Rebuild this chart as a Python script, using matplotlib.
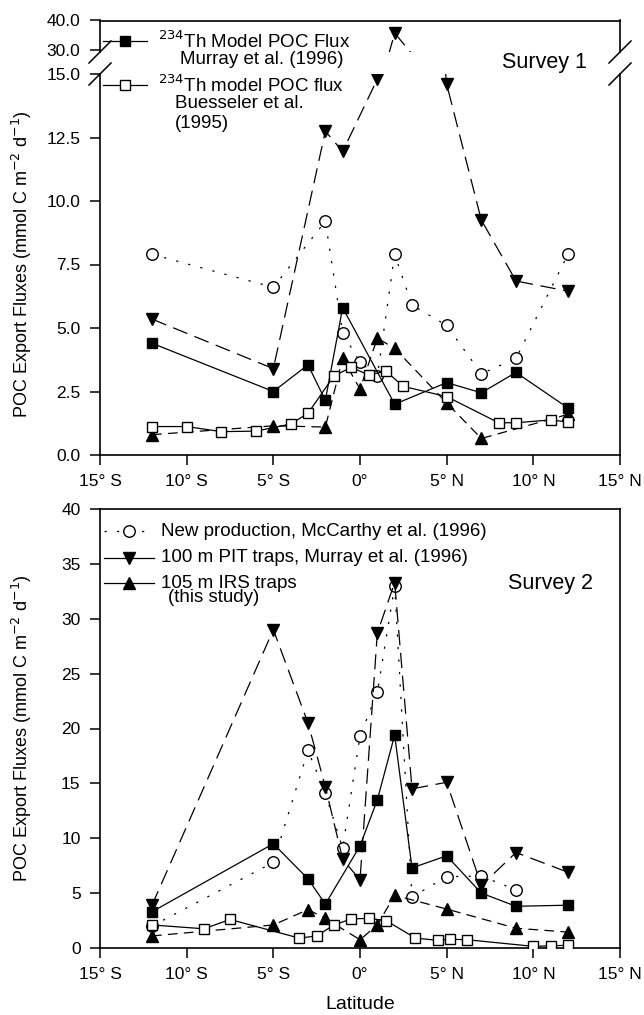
import matplotlib
matplotlib.use("Agg")
import matplotlib.pyplot as plt
from matplotlib.lines import Line2D
from matplotlib.transforms import Affine2D

plt.rcParams['font.family'] = ['Liberation Sans', 'DejaVu Sans']
plt.rcParams['lines.scale_dashes'] = False

# ---------------- data ----------------
lat_ticks = [-15, -10, -5, 0, 5, 10, 15]
lat_labels = ["15° S", "10° S", "5° S", "0°", "5° N", "10° N", "15° N"]

# Survey 1
s1_np_lat = [-12, -5, -2, -1, 0, 1, 2, 3, 5, 7, 9, 12]
s1_np = [7.9, 6.6, 9.2, 4.8, 3.65, 3.1, 7.9, 5.9, 5.1, 3.2, 3.8, 7.9]
s1_th_lat = [-12, -5, -3, -2, -1, 2, 5, 7, 9, 12]
s1_th = [4.4, 2.5, 3.55, 2.15, 5.8, 2.0, 2.85, 2.45, 3.25, 1.85]
s1_bu_lat = [-12, -10, -8, -6, -4, -3, -1.5, -0.5, 0.5, 1.5, 2.5, 5, 8, 9, 11, 12]
s1_bu = [1.12, 1.12, 0.92, 0.94, 1.22, 1.64, 3.12, 3.45, 3.15, 3.3, 2.7, 2.3, 1.27, 1.27, 1.38, 1.3]
s1_irs_lat = [-12, -5, -2, -1, 0, 1, 2, 5, 7, 12]
s1_irs = [0.8, 1.15, 1.1, 3.8, 2.6, 4.6, 4.2, 2.05, 0.65, 1.6]
s1_pit_lat = [-12, -5, -2, -1, 1, 2, 5, 7, 9, 12]
s1_pit = [5.35, 3.4, 12.75, 11.95, 14.8, 35.7, 14.6, 9.25, 6.85, 6.45]

# Survey 2
s2_np_lat = [-12, -5, -3, -2, -1, 0, 1, 2, 3, 5, 7, 9]
s2_np = [2.0, 7.8, 18.0, 14.1, 9.1, 19.3, 23.3, 33.0, 4.65, 6.5, 6.55, 5.3]
s2_th_lat = [-12, -5, -3, -2, 0, 1, 2, 3, 5, 7, 9, 12]
s2_th = [3.3, 9.5, 6.3, 4.0, 9.3, 13.5, 19.4, 7.3, 8.4, 5.0, 3.8, 3.9]
s2_bu_lat = [-12, -9, -7.5, -3.5, -2.5, -1.5, -0.5, 0.5, 1.5, 3.2, 4.5, 5.2, 6.2, 10, 11, 12]
s2_bu = [2.1, 1.75, 2.6, 0.9, 1.1, 2.1, 2.65, 2.7, 2.5, 0.9, 0.7, 0.8, 0.75, 0.15, 0.2, 0.25]
s2_pit_lat = [-12, -5, -3, -2, -1, 0, 1, 2, 3, 5, 7, 9, 12]
s2_pit = [3.9, 29.0, 20.5, 14.7, 8.1, 6.2, 28.7, 33.3, 14.5, 15.1, 5.7, 8.7, 6.9]
s2_irs_lat = [-12, -5, -3, -2, 0, 1, 2, 5, 9, 12]
s2_irs = [1.1, 2.1, 3.5, 2.7, 0.75, 2.1, 4.8, 3.55, 1.8, 1.45]

leg1_labels = [["$^{234}$Th Model POC Flux", "Murray et al. (1996)"],
               ["$^{234}$Th model POC flux", "Buesseler et al.", "(1995)"]]
leg2_labels = [["New production, McCarthy et al. (1996)"],
               ["100 m PIT traps, Murray et al. (1996)"],
               ["105 m IRS traps", "(this study)"]]
ylabel = "POC Export Fluxes (mmol C m$^{-2}$ d$^{-1}$)"

# ---------------- styles ----------------
W, H = 644, 1015
LW = 0.9
STY = {
    'np':  dict(color='black', lw=LW, dashes=(1.6, 7.4), marker='o', ms=8.3, mfc='white', mec='black', mew=1.0),
    'pit': dict(color='black', lw=LW, dashes=(11, 5.5), marker='v', ms=8.5, mfc='black', mec='black', mew=1.0),
    'irs': dict(color='black', lw=LW, dashes=(7, 4.5), marker='^', ms=8.5, mfc='black', mec='black', mew=1.0),
    'th':  dict(color='black', lw=LW, ls='-', marker='s', ms=7.5, mfc='black', mec='black', mew=1.0),
    'bu':  dict(color='black', lw=LW, ls='-', marker='s', ms=7.5, mfc='white', mec='black', mew=1.0),
}
TICK_FS = 12.5

fig = plt.figure(figsize=(W / 100, H / 100), dpi=100)
pxT = Affine2D().scale(1 / W, -1 / H).translate(0, 1) + fig.transFigure


def add_ax(l, t, r, b):
    return fig.add_axes([l / W, 1 - b / H, (r - l) / W, (b - t) / H])


def style_ax(ax):
    for s in ax.spines.values():
        s.set_linewidth(1.2)
    ax.tick_params(direction='out', length=7, width=1.1, labelsize=TICK_FS, pad=7,
                   top=False, right=False)
    ax.set_xlim(-15, 15)


def draw_series(ax, clip=True):
    pass


# ---------- Top panel (broken axis) ----------
ax_up = add_ax(100, 20.5, 620, 52)
ax_lo = add_ax(100, 74, 620, 455)
for ax in (ax_up, ax_lo):
    style_ax(ax)
    ax.plot(s1_np_lat, s1_np, **STY['np'], zorder=3)
    ax.plot(s1_pit_lat, s1_pit, **STY['pit'], zorder=4)
    ax.plot(s1_irs_lat, s1_irs, **STY['irs'], zorder=5)
    ax.plot(s1_th_lat, s1_th, **STY['th'], zorder=6)
    ax.plot(s1_bu_lat, s1_bu, **STY['bu'], zorder=7)

ax_up.set_ylim(29.3, 40)
ax_up.set_yticks([30, 40])
ax_up.set_yticklabels(["30.0", "40.0"])
ax_up.spines['bottom'].set_visible(False)
ax_up.tick_params(axis='x', bottom=False, labelbottom=False)

ax_lo.set_ylim(0, 15)
ax_lo.set_yticks([0, 2.5, 5, 7.5, 10, 12.5, 15])
ax_lo.set_yticklabels(["0.0", "2.5", "5.0", "7.5", "10.0", "12.5", "15.0"])
ax_lo.spines['top'].set_visible(False)
ax_lo.set_xticks(lat_ticks)
ax_lo.set_xticklabels(lat_labels)

# break marks
for xc in (100, 620):
    for yc in (52, 74):
        fig.add_artist(Line2D([xc - 11, xc + 11], [yc + 11, yc - 11], transform=pxT,
                              color='black', lw=1.1))

fig.text(22 / W, 1 - 264 / H, ylabel, rotation=90, ha='center', va='center', fontsize=13)
fig.text(544 / W, 1 - 62 / H, "Survey 1", ha='center', va='center', fontsize=15.5)

# top legend
def leg_handle(y, key, x0=103, x1=147, xm=125):
    st = dict(STY[key])
    ms = dict(marker=st.pop('marker'), ms=st.pop('ms'), mfc=st.pop('mfc'),
              mec=st.pop('mec'), mew=st.pop('mew'))
    if key in ('np',):
        fig.add_artist(Line2D([x0, x1], [y, y], transform=pxT, **st))
    else:
        fig.add_artist(Line2D([x0, x1], [y, y], transform=pxT, color='black', lw=LW))
    fig.add_artist(Line2D([xm], [y], transform=pxT, ls='none', **ms))

LEG_FS = 13.5
leg_handle(41, 'th')
fig.text(158 / W, 1 - 41 / H, leg1_labels[0][0], ha='left', va='center', fontsize=LEG_FS)
fig.text(180 / W, 1 - 59.5 / H, leg1_labels[0][1], ha='left', va='center', fontsize=LEG_FS)
leg_handle(85, 'bu')
fig.text(158 / W, 1 - 85 / H, leg1_labels[1][0], ha='left', va='center', fontsize=LEG_FS)
fig.text(175 / W, 1 - 104 / H, leg1_labels[1][1], ha='left', va='center', fontsize=LEG_FS)
fig.text(175 / W, 1 - 123 / H, leg1_labels[1][2], ha='left', va='center', fontsize=LEG_FS)

# ---------- Bottom panel ----------
ax2 = add_ax(100, 509, 620, 948)
style_ax(ax2)
ax2.plot(s2_np_lat, s2_np, **STY['np'], zorder=3)
ax2.plot(s2_pit_lat, s2_pit, **STY['pit'], zorder=4)
ax2.plot(s2_irs_lat, s2_irs, **STY['irs'], zorder=5)
ax2.plot(s2_th_lat, s2_th, **STY['th'], zorder=6)
ax2.plot(s2_bu_lat, s2_bu, **STY['bu'], zorder=7)
ax2.set_ylim(0, 40)
ax2.set_yticks(range(0, 41, 5))
ax2.set_xticks(lat_ticks)
ax2.set_xticklabels(lat_labels)
ax2.set_xlabel("Latitude", fontsize=14, labelpad=10)

fig.text(22 / W, 1 - 728 / H, ylabel, rotation=90, ha='center', va='center', fontsize=13)
fig.text(551 / W, 1 - 583 / H, "Survey 2", ha='center', va='center', fontsize=15.5)

leg_handle(531.5, 'np', x0=104, x1=154, xm=129)
fig.text(161 / W, 1 - 531.5 / H, leg2_labels[0][0], ha='left', va='center', fontsize=LEG_FS)
leg_handle(558, 'pit', x0=104, x1=154, xm=129)
fig.text(161 / W, 1 - 558 / H, leg2_labels[1][0], ha='left', va='center', fontsize=LEG_FS)
leg_handle(583, 'irs', x0=104, x1=154, xm=129)
fig.text(161 / W, 1 - 583 / H, leg2_labels[2][0], ha='left', va='center', fontsize=LEG_FS)
fig.text(168 / W, 1 - 598 / H, leg2_labels[2][1], ha='left', va='center', fontsize=LEG_FS)

fig.savefig("out.png", dpi=100)
